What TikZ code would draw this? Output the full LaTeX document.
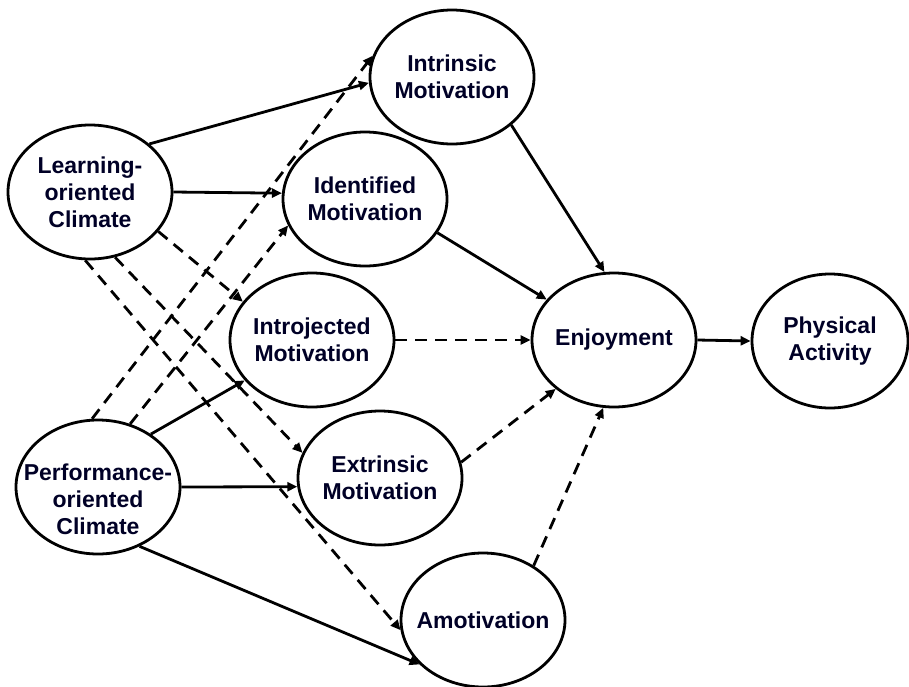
\documentclass[tikz,border=0pt]{standalone}
\usepackage{fontspec}
\setmainfont{Liberation Sans}
\usetikzlibrary{shapes.geometric,arrows.meta}

\begin{document}
\begin{tikzpicture}[x=1pt, y=-1pt]
% Path model: climates, motivations, enjoyment, activity
\providecommand{\pmLineWidth}{2.8pt}
\providecommand{\pmTextColor}{black!85!blue}
\tikzset{
  construct/.style={ellipse, draw, line width=\pmLineWidth, minimum width=164pt, minimum height=134pt, inner sep=0pt},
  caption/.style={font=\bfseries\fontsize{23}{27}\selectfont, text=\pmTextColor, align=center},
  sig/.style={line width=\pmLineWidth, -{Triangle[length=10pt,width=9pt]}},
  nonsig/.style={sig, dash pattern=on 12pt off 8pt},
}
\useasboundingbox (0,0) rectangle (909,686);
% Climates
\node[construct, label={[caption]center:{Learning-\\oriented\\Climate}}] (lc) at (90,192) {};
\node[construct, label={[caption, yshift=-12pt]center:{Performance-\\oriented\\Climate}}] (pc) at (98,487) {};
% Motivations
\node[construct, label={[caption]center:{Intrinsic\\Motivation}}] (im) at (452,77) {};
\node[construct, label={[caption]center:{Identified\\Motivation}}] (id) at (365,199) {};
\node[construct, label={[caption]center:{Introjected\\Motivation}}] (ij) at (312,340) {};
\node[construct, label={[caption]center:{Extrinsic\\Motivation}}] (ex) at (380,478) {};
\node[construct, label={[caption]center:{Amotivation}}] (am) at (483,620) {};
% Outcomes
\node[construct, label={[caption]center:{Enjoyment}}] (en) at (614,340) {};
\node[construct, minimum width=156pt, label={[caption]center:{Physical\\Activity}}] (pa) at (830,341) {};
% Paths from the climates
\draw[sig] (lc.39) -- (im.184);
\draw[sig] (lc.0) -- (id.176);
\draw[nonsig] (lc.330) -- (ij.151);
\draw[nonsig] (lc.291) -- (ex.162);
\draw[nonsig] (lc.266) -- (am.187);
\draw[nonsig] (pc.95) -- (im.165);
\draw[nonsig] (pc.63) -- (id.199);
\draw[sig] (pc.45) -- (ij.211);
\draw[sig] (pc.0) -- (ex.186);
\draw[sig] (pc.305) -- (am.215);
% Paths to enjoyment and activity
\draw[sig] (im.321) -- (en.98);
\draw[sig] (id.335) -- (en.149);
\draw[nonsig] (ij.0) -- (en.180);
\draw[nonsig] (ex.11) -- (en.220);
\draw[nonsig] (am.47) -- (en.261);
\draw[sig] (en.0) -- (pa.180);
\end{tikzpicture}
\end{document}
